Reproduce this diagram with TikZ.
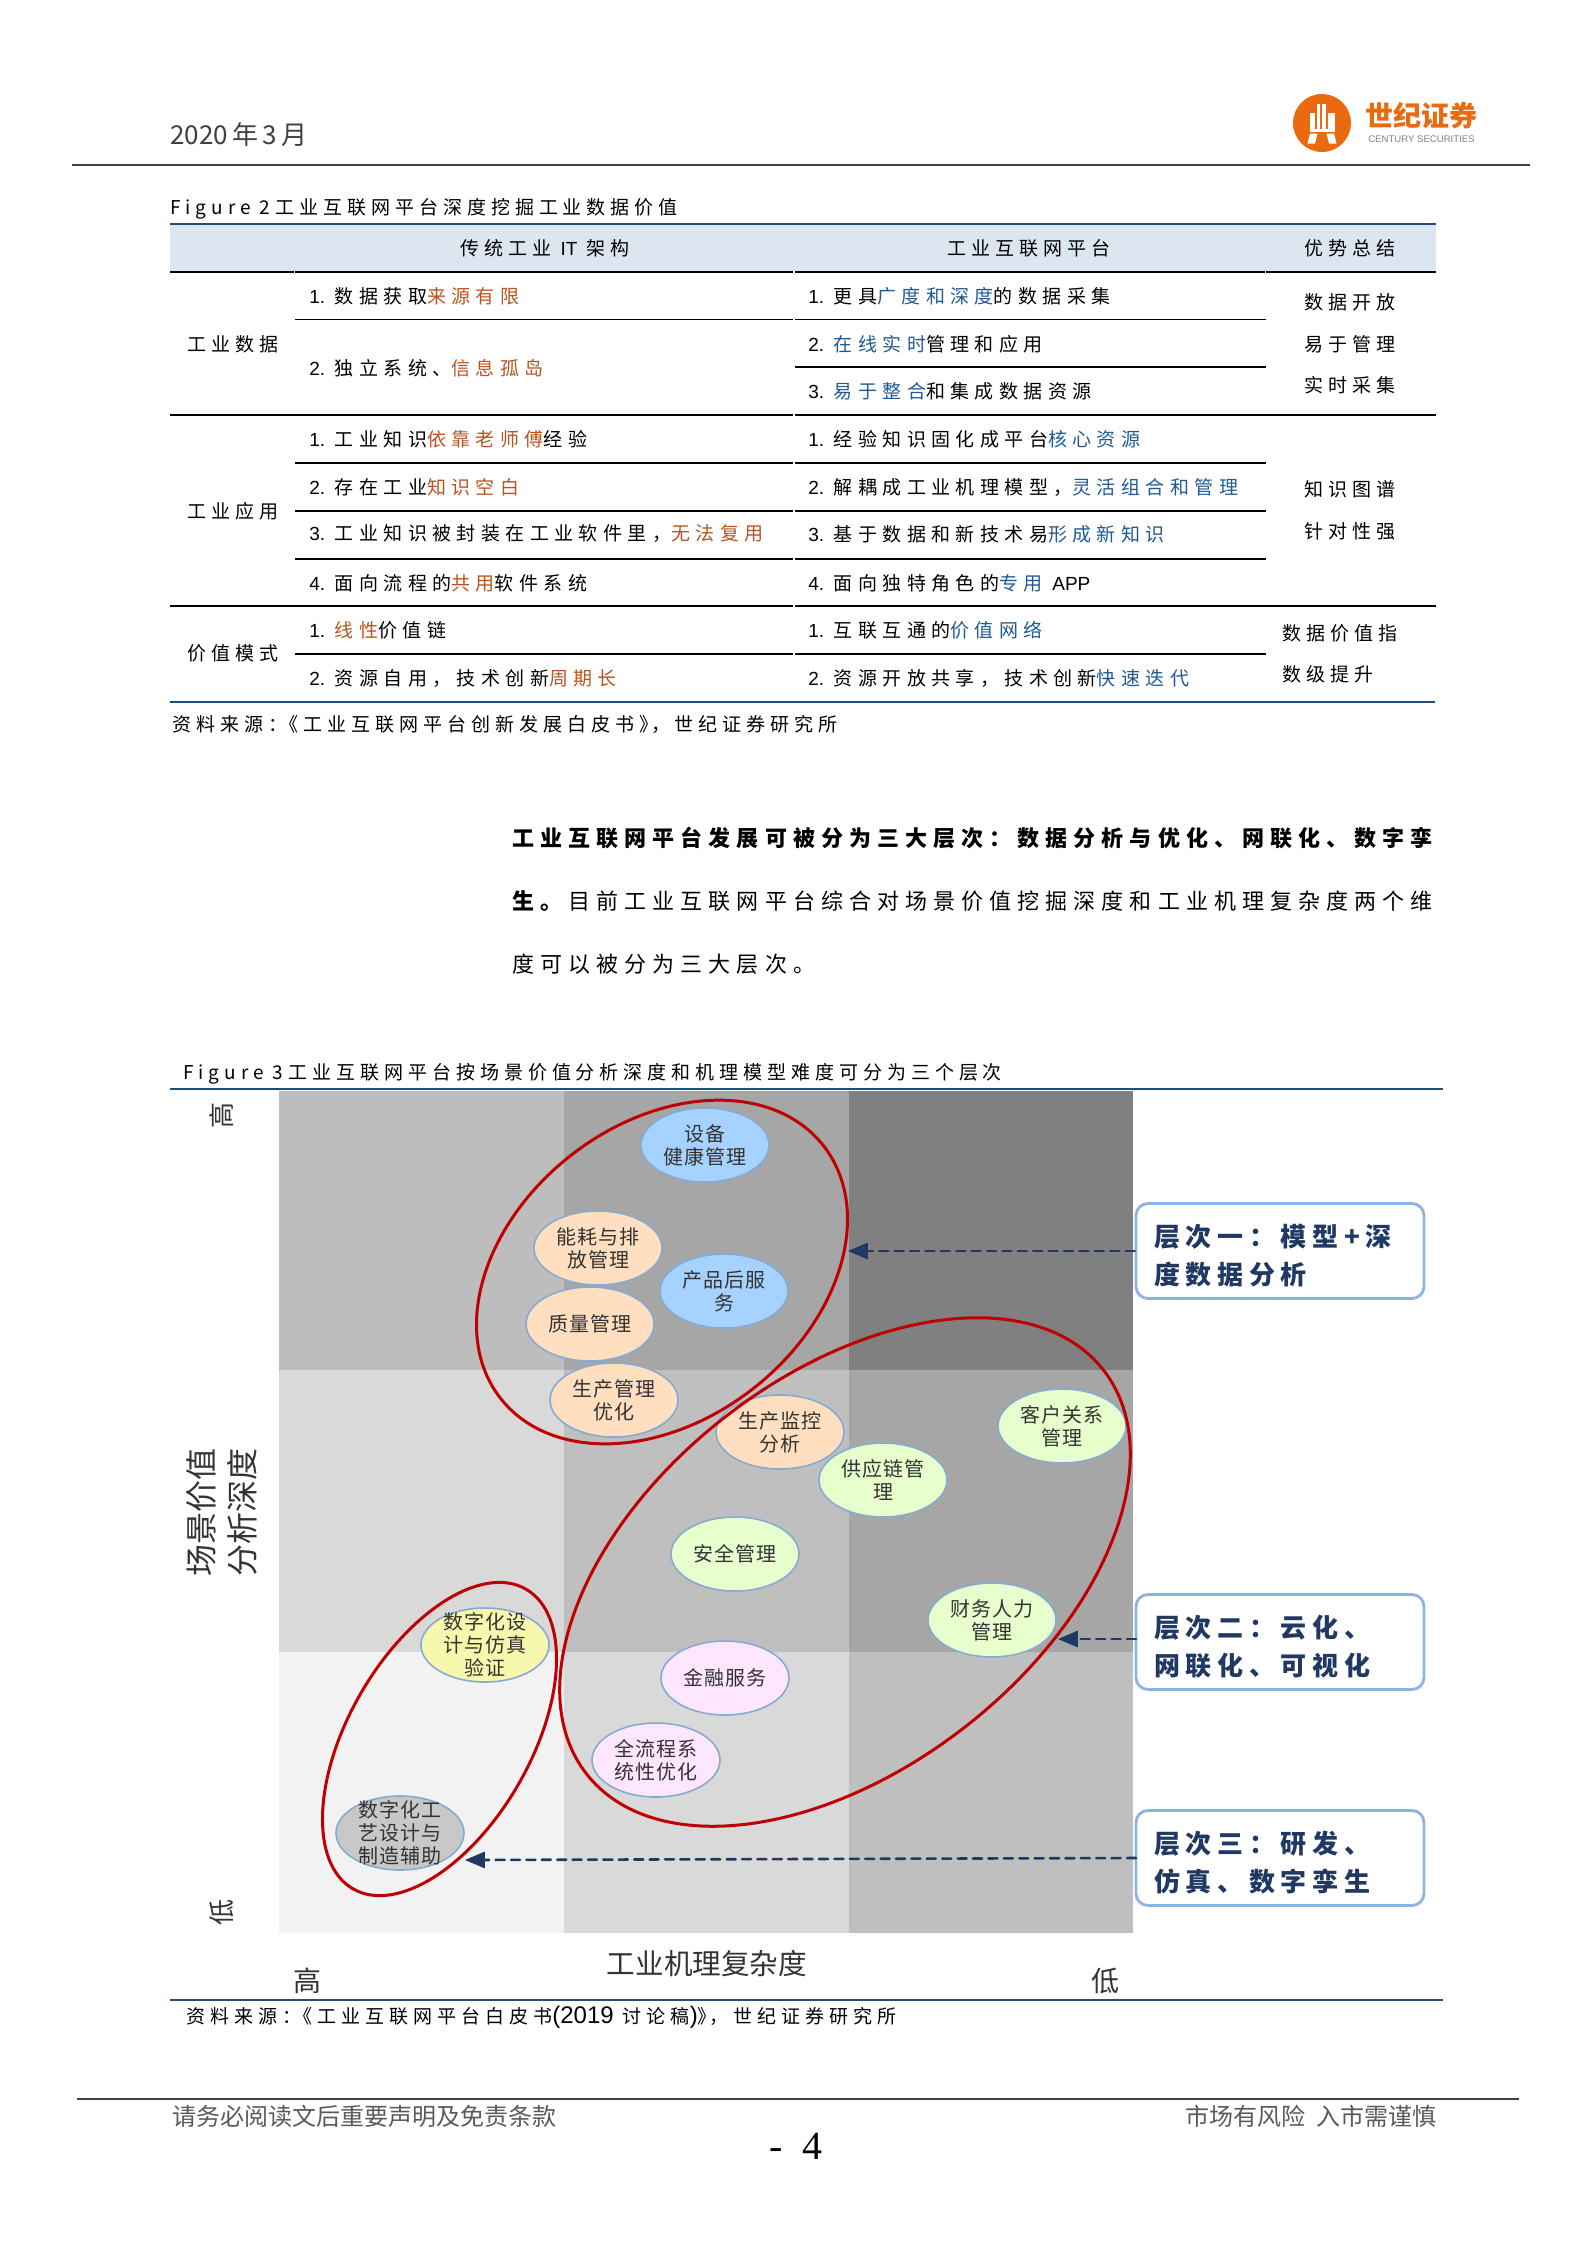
\documentclass[tikz,border=0pt]{standalone}
\usepackage{fontspec}
\usepackage{xcolor}
\usetikzlibrary{arrows}
\usetikzlibrary{shapes.geometric}
\setmainfont{Noto Sans CJK SC}
\newfontfamily\tabfont[LetterSpace=26]{Noto Sans CJK SC}
\newfontfamily\rowfont[LetterSpace=28.5]{Noto Sans CJK SC}
\newfontfamily\bodyfont[LetterSpace=27.6]{Noto Sans CJK SC}
\newfontfamily\tierfont[LetterSpace=22]{Noto Sans CJK SC}
\newfontfamily\bubfont[LetterSpace=5]{Noto Sans CJK SC}
\newfontfamily\pagefont{Liberation Serif}
\newfontfamily\latinfont{Liberation Sans}
\definecolor{redword}{HTML}{B9531F}
\definecolor{blueword}{HTML}{1F5A96}
\definecolor{ruleblue}{HTML}{1F4E79}
\definecolor{headfill}{HTML}{DCE6F1}
\definecolor{bubline}{HTML}{86ABD3}
\definecolor{ringred}{HTML}{C00000}
\definecolor{tierline}{HTML}{8DB3E2}
\definecolor{tiernavy}{HTML}{1F3864}
\definecolor{logoorange}{HTML}{EB6A0F}
\definecolor{bubpeach}{HTML}{FFDFC0}
\definecolor{bubsky}{HTML}{A6D2FF}
\definecolor{bubgreen}{HTML}{E6FFCC}
\definecolor{bubpink}{HTML}{FFE6FF}
\definecolor{bubyellow}{HTML}{F7F7AE}
\definecolor{bubgrey}{HTML}{C8C8C8}
\newcommand{\rw}[1]{\textcolor{redword}{#1}}
\newcommand{\bw}[1]{\textcolor{blueword}{#1}}
\newcommand{\idx}[1]{\makebox[12.7pt][l]{\latinfont #1}}
\tikzset{
  tabtext/.style={anchor=west,inner sep=0pt,font=\tabfont\fontsize{9.5}{11.5}\selectfont},
  rowtext/.style={anchor=west,inner sep=0pt,font=\rowfont\fontsize{9.5}{11.5}\selectfont},
  tabmid/.style={anchor=center,inner sep=0pt,font=\tabfont\fontsize{9.5}{11.5}\selectfont},
  bodytext/.style={anchor=west,inner sep=0pt,font=\bodyfont\fontsize{11}{13}\selectfont},
  axistext/.style={anchor=center,inner sep=0pt,align=center,text=black!80},
  foottext/.style={anchor=west,inner sep=0pt,text=black!65,font=\fontsize{12}{14}\selectfont},
  bubble/.style={ellipse,draw=bubline,line width=0.8pt,minimum width=64pt,minimum height=37pt,inner sep=0pt,align=center,text=black!80,font=\bubfont\fontsize{10}{11.5}\selectfont},
  orangebub/.style={bubble,fill=bubpeach},
  bluebub/.style={bubble,fill=bubsky},
  greenbub/.style={bubble,fill=bubgreen},
  pinkbub/.style={bubble,fill=bubpink},
  yellowbub/.style={bubble,fill=bubyellow},
  greybub/.style={bubble,fill=bubgrey},
  ring/.style={ellipse,draw=ringred,line width=1.5pt,inner sep=0pt},
  tierbox/.style={rectangle,rounded corners=6pt,draw=tierline,line width=1.4pt,fill=white,minimum width=144pt,minimum height=47.5pt,inner sep=0pt,text width=126pt,text height=15.5pt,align=left,text=tiernavy,font=\tierfont\bfseries\fontsize{13}{19}\selectfont},
  dasharrow/.style={->,draw=tiernavy,line width=1.3pt,dash pattern=on 4.5pt off 3.2pt},
  blackrule/.style={line width=0.9pt,line cap=butt},
  bluerule/.style={draw=ruleblue,line width=1.2pt,line cap=butt}
}
\begin{document}
\begin{tikzpicture}[line cap=round,line join=round,>=triangle 45,x=0.5pt,y=-0.5pt]
	\clip(0,0) rectangle (1586,2244);
	% page head
	\draw (170,134.5) node[anchor=west,inner sep=0pt,text=black!75,font=\fontsize{13}{15}\selectfont] (headdate) {2020\,年\,3\,月};
	\draw [line width=1pt,draw=black!75,line cap=butt] (72,165)-- (1530,165);
	\fill [logoorange] (1322,123) circle (14.5pt);
	\fill [white] (1310,113) rectangle (1315,131.7);
	\fill [white] (1317.3,104) rectangle (1320,129.3);
	\fill [white] (1322,104) rectangle (1325.7,129.3);
	\fill [white] (1328.3,113) rectangle (1334.7,131.7);
	\fill [white] (1315,129.3) rectangle (1328.3,132);
	\fill [white] (1310,133.5)-- (1317.5,133.5)-- (1315,143.5)-- (1307.5,143.5)-- cycle;
	\fill [white] (1326.5,133.5)-- (1334,133.5)-- (1336.5,143.5)-- (1329,143.5)-- cycle;
	\draw (1421.5,116) node[anchor=center,inner sep=0pt,text=logoorange,font=\bfseries\fontsize{14}{15}\selectfont] (logoname) {世纪证券};
	\draw (1421.5,139) node[anchor=center,inner sep=0pt,text=black!50,font=\latinfont\fontsize{4.8}{6}\selectfont] (logoeng) {CENTURY SECURITIES};
	% table
	\draw (170,209) node[tabtext] (captiontab) {Figure 2\hspace{-2pt} 工业互联网平台深度挖掘工业数据价值};
	\fill [headfill] (170,224) rectangle (1436,271);
	\draw [bluerule] (170,224)-- (1436,224);
	\draw [blackrule] (170,272)-- (294,272);
	\draw [blackrule] (295,272)-- (793,272);
	\draw [blackrule] (795,272)-- (1265,272);
	\draw [blackrule] (1266,272)-- (1436,272);
	\draw [blackrule] (295,319.5)-- (793,319.5);
	\draw [blackrule] (795,319.5)-- (1266,319.5);
	\draw [blackrule] (795,367)-- (1266,367);
	\draw [blackrule] (170,415)-- (793,415);
	\draw [blackrule] (795,415)-- (1436,415);
	\draw [blackrule] (295,463)-- (793,463);
	\draw [blackrule] (795,463)-- (1266,463);
	\draw [blackrule] (295,511)-- (793,511);
	\draw [blackrule] (795,511)-- (1266,511);
	\draw [blackrule] (295,559)-- (793,559);
	\draw [blackrule] (795,559)-- (1266,559);
	\draw [blackrule] (170,606)-- (793,606);
	\draw [blackrule] (795,606)-- (1436,606);
	\draw [blackrule] (295,654)-- (793,654);
	\draw [blackrule] (795,654)-- (1266,654);
	\draw [bluerule] (170,702)-- (1435,702);
	\draw (545,248) node[tabmid] (headit) {传统工业 {\latinfont IT} 架构};
	\draw (1029,248) node[tabmid] (headplat) {工业互联网平台};
	\draw (1350,248) node[tabmid] (headsum) {优势总结};
	\draw (233,344) node[tabmid] (rowdata) {工业数据};
	\draw (233,511) node[tabmid] (rowapp) {工业应用};
	\draw (233,653) node[tabmid] (rowvalue) {价值模式};
	\draw (309,296) node[rowtext] (ita) {\idx{1.}数据获取\rw{来源有限}};
	\draw (309,368) node[rowtext] (itb) {\idx{2.}独立系统、\rw{信息孤岛}};
	\draw (309,439) node[rowtext] (itc) {\idx{1.}工业知识\rw{依靠老师傅}经验};
	\draw (309,487) node[rowtext] (itd) {\idx{2.}存在工业\rw{知识空白}};
	\draw (309,534) node[rowtext] (ite) {\idx{3.}工业知识被封装在工业软件里，\rw{无法复用}};
	\draw (309,583) node[rowtext] (itf) {\idx{4.}面向流程的\rw{共用}软件系统};
	\draw (309,630) node[rowtext] (itg) {\idx{1.}\rw{线性}价值链};
	\draw (309,678) node[rowtext] (ith) {\idx{2.}资源自用，技术创新\rw{周期长}};
	\draw (808,296) node[rowtext] (plata) {\idx{1.}更具\bw{广度和深度}的数据采集};
	\draw (808,344) node[rowtext] (platb) {\idx{2.}\bw{在线实时}管理和应用};
	\draw (808,391) node[rowtext] (platc) {\idx{3.}\bw{易于整合}和集成数据资源};
	\draw (808,439) node[rowtext] (platd) {\idx{1.}经验知识固化成平台\bw{核心资源}};
	\draw (808,487) node[rowtext] (plate) {\idx{2.}解耦成工业机理模型，\bw{灵活组合和管理}};
	\draw (808,534) node[rowtext] (platf) {\idx{3.}基于数据和新技术易\bw{形成新知识}};
	\draw (808,583) node[rowtext] (platg) {\idx{4.}面向独特角色的\bw{专用} {\latinfont APP}};
	\draw (808,630) node[rowtext] (plath) {\idx{1.}互联互通的\bw{价值网络}};
	\draw (808,678) node[rowtext] (plati) {\idx{2.}资源开放共享，技术创新\bw{快速迭代}};
	\draw (1304,302) node[tabtext] (suma) {数据开放};
	\draw (1304,344) node[tabtext] (sumb) {易于管理};
	\draw (1304,385) node[tabtext] (sumc) {实时采集};
	\draw (1304,489) node[tabtext] (sumd) {知识图谱};
	\draw (1304,531) node[tabtext] (sume) {针对性强};
	\draw (1282,633) node[tabtext] (sumf) {数据价值指};
	\draw (1282,674) node[tabtext] (sumg) {数级提升};
	\draw (172,724) node[tabtext] (sourcetab) {资料来源：\hspace{-3.6pt}《工业互联网平台创新发展白皮书》\hspace{-3.5pt}，世纪证券研究所};
	% body text
	\draw (512,838) node[bodytext] (bodya) {\bfseries 工业互联网平台发展可被分为三大层次：数据分析与优化、网联化、数字孪};
	\draw (512,901) node[bodytext] (bodyb) {\textbf{生。}目前工业互联网平台综合对场景价值挖掘深度和工业机理复杂度两个维};
	\draw (512,964) node[bodytext] (bodyc) {度可以被分为三大层次。};
	% figure 3
	\draw (183,1074) node[tabtext] (captionfig) {Figure 3\hspace{-2pt} 工业互联网平台按场景价值分析深度和机理模型难度可分为三个层次};
	\fill [black!26] (279,1091) rectangle (564,1370);
	\fill [black!35] (564,1091) rectangle (849,1370);
	\fill [black!50] (849,1091) rectangle (1133,1370);
	\fill [black!15] (279,1370) rectangle (564,1652);
	\fill [black!25] (564,1370) rectangle (849,1652);
	\fill [black!35] (849,1370) rectangle (1133,1652);
	\fill [black!5] (279,1652) rectangle (564,1933);
	\fill [black!15] (564,1652) rectangle (849,1933);
	\fill [black!25] (849,1652) rectangle (1133,1933);
	\draw [bluerule] (170,1089)-- (1443,1089);
	\draw [bluerule] (170,2000)-- (1443,2000);
	\draw (222,1115) node[axistext,rotate=90,font=\fontsize{13}{15}\selectfont] (axishigh) {高};
	\draw (222,1912) node[axistext,rotate=90,font=\fontsize{13}{15}\selectfont] (axislow) {低};
	\draw (222,1512) node[axistext,rotate=90,font=\fontsize{16}{20.5}\selectfont] (axisvalue) {场景价值\\分析深度};
	\draw (707,1964) node[axistext,font=\fontsize{14.3}{17}\selectfont] (axismech) {工业机理复杂度};
	\draw (307,1981) node[axistext,font=\fontsize{14}{17}\selectfont] (mechhigh) {高};
	\draw (1105,1981) node[axistext,font=\fontsize{14}{17}\selectfont] (mechlow) {低};
	\draw (186,2017) node[tabtext] (sourcefig) {资料来源：\hspace{-3.6pt}《工业互联网平台白皮书{\latinfont\fontsize{12}{14}\selectfont(2019} 讨论稿{\latinfont\fontsize{12}{14}\selectfont)}》\hspace{-3.5pt}，世纪证券研究所};
	% bubbles
	\draw (705,1145) node[bluebub] (health) {设备\\健康管理};
	\draw (598,1248) node[orangebub] (energy) {能耗与排\\放管理};
	\draw (724,1291) node[bluebub] (service) {产品后服\\务};
	\draw (590,1324) node[orangebub] (quality) {质量管理};
	\draw (614,1400) node[orangebub] (prodopt) {生产管理\\优化};
	\draw (780,1432) node[orangebub] (monitor) {生产监控\\分析};
	\draw (883,1480) node[greenbub] (supply) {供应链管\\理};
	\draw (1062,1426) node[greenbub] (client) {客户关系\\管理};
	\draw (735,1554) node[greenbub] (safety) {安全管理};
	\draw (992,1620) node[greenbub] (finance) {财务人力\\管理};
	\draw (725,1678) node[pinkbub] (money) {金融服务};
	\draw (656,1760) node[pinkbub] (process) {全流程系\\统性优化};
	\draw (485,1645) node[yellowbub,inner ysep=-5pt] (digisim) {数字化设\\计与仿真\\验证};
	\draw (400,1833) node[greybub,inner ysep=-5pt] (digicraft) {数字化工\\艺设计与\\制造辅助};
	% rings
	\draw (662,1272) node[ring,rotate=38,minimum width=205pt,minimum height=148pt] (ringone) {};
	\draw (845,1572) node[ring,rotate=38,minimum width=328pt,minimum height=196pt] (ringtwo) {};
	\draw (439.5,1739) node[ring,rotate=60,minimum width=173pt,minimum height=91pt] (ringthree) {};
	% tier boxes
	\draw (1280,1251) node[tierbox] (tierone) {层次一：模型+深\\度数据分析};
	\draw (1280,1642) node[tierbox] (tiertwo) {层次二：云化、\\网联化、可视化};
	\draw (1280,1858) node[tierbox] (tierthree) {层次三：研发、\\仿真、数字孪生};
	\coordinate (tipone) at (848,1251);
	\coordinate (tiptwo) at (1058,1639);
	\coordinate (tipthree) at (465,1860);
	\coordinate (tailtwo) at (1136,1639);
	\coordinate (tailthree) at (1136,1858);
	\draw [dasharrow] (tierone.west)-- (tipone);
	\draw [dasharrow] (tailtwo)-- (tiptwo);
	\draw [dasharrow] (tailthree)-- (tipthree);
	% page foot
	\draw [line width=0.8pt,draw=black!75,line cap=butt] (77,2099)-- (1519,2099);
	\draw (172,2116) node[foottext] (footleft) {请务必阅读文后重要声明及免责条款};
	\draw (1185,2116) node[foottext] (footright) {市场有风险\ \ 入市需谨慎};
	\draw (796,2146) node[anchor=center,inner sep=0pt,font=\pagefont\fontsize{20}{22}\selectfont] (pageno) {-\hspace{0.5em}4};
\end{tikzpicture}
\end{document}
